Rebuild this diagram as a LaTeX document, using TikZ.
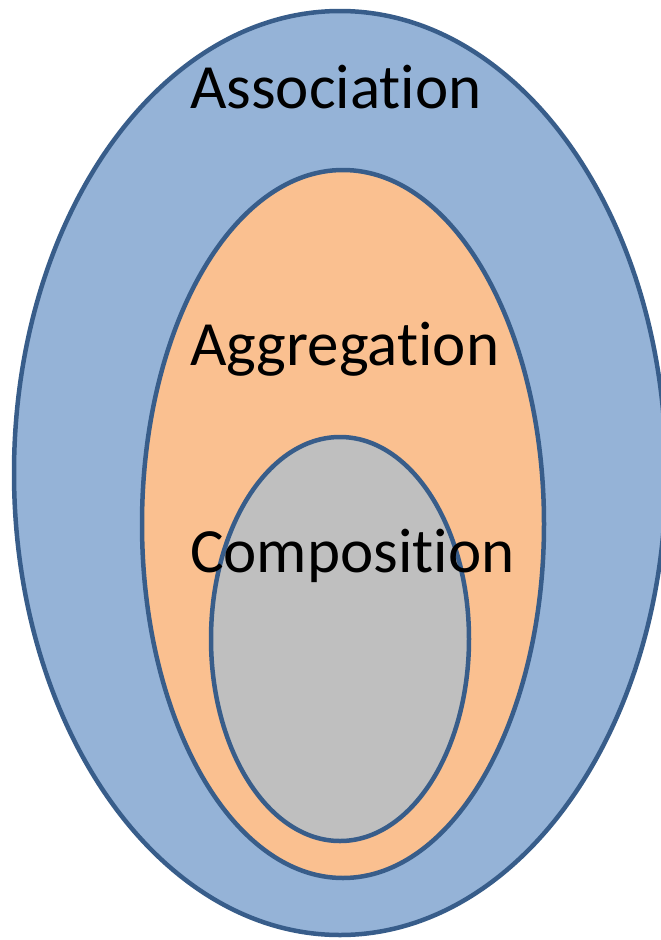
\documentclass[tikz,border=0pt]{standalone}
\usepackage{fontspec}
\setmainfont{Carlito}[Ligatures={NoCommon}]
\usetikzlibrary{shapes.geometric}
\definecolor{edgeblue}{HTML}{385D8A}
\definecolor{outerfill}{HTML}{95B3D7}
\definecolor{midfill}{HTML}{FAC090}
\definecolor{innerfill}{HTML}{BFBFBF}
\tikzset{
  ring/.style={ellipse, draw=edgeblue, line width=4.5pt, inner sep=0pt},
  lbl/.style={anchor=base west, inner sep=0pt, font=\fontsize{63}{70}\selectfont}
}
\begin{document}
\begin{tikzpicture}[x=1pt,y=-1pt]
\useasboundingbox (0,0) rectangle (661,940);
\clip (0,0) rectangle (661,940);
\node[ring, fill=outerfill, minimum width=652pt, minimum height=924pt] (assoc) at (340,473) {};
\node[ring, fill=midfill, minimum width=402pt, minimum height=708pt] (aggr) at (343,524) {};
\node[ring, fill=innerfill, minimum width=258pt, minimum height=404pt] (comp) at (340,639) {};
\node[lbl] (tassoc) at (190,108) {Association};
\node[lbl] (taggr) at (190,365) {Aggregation};
\node[lbl] (tcomp) at (190,572) {Composition};
\end{tikzpicture}
\end{document}
